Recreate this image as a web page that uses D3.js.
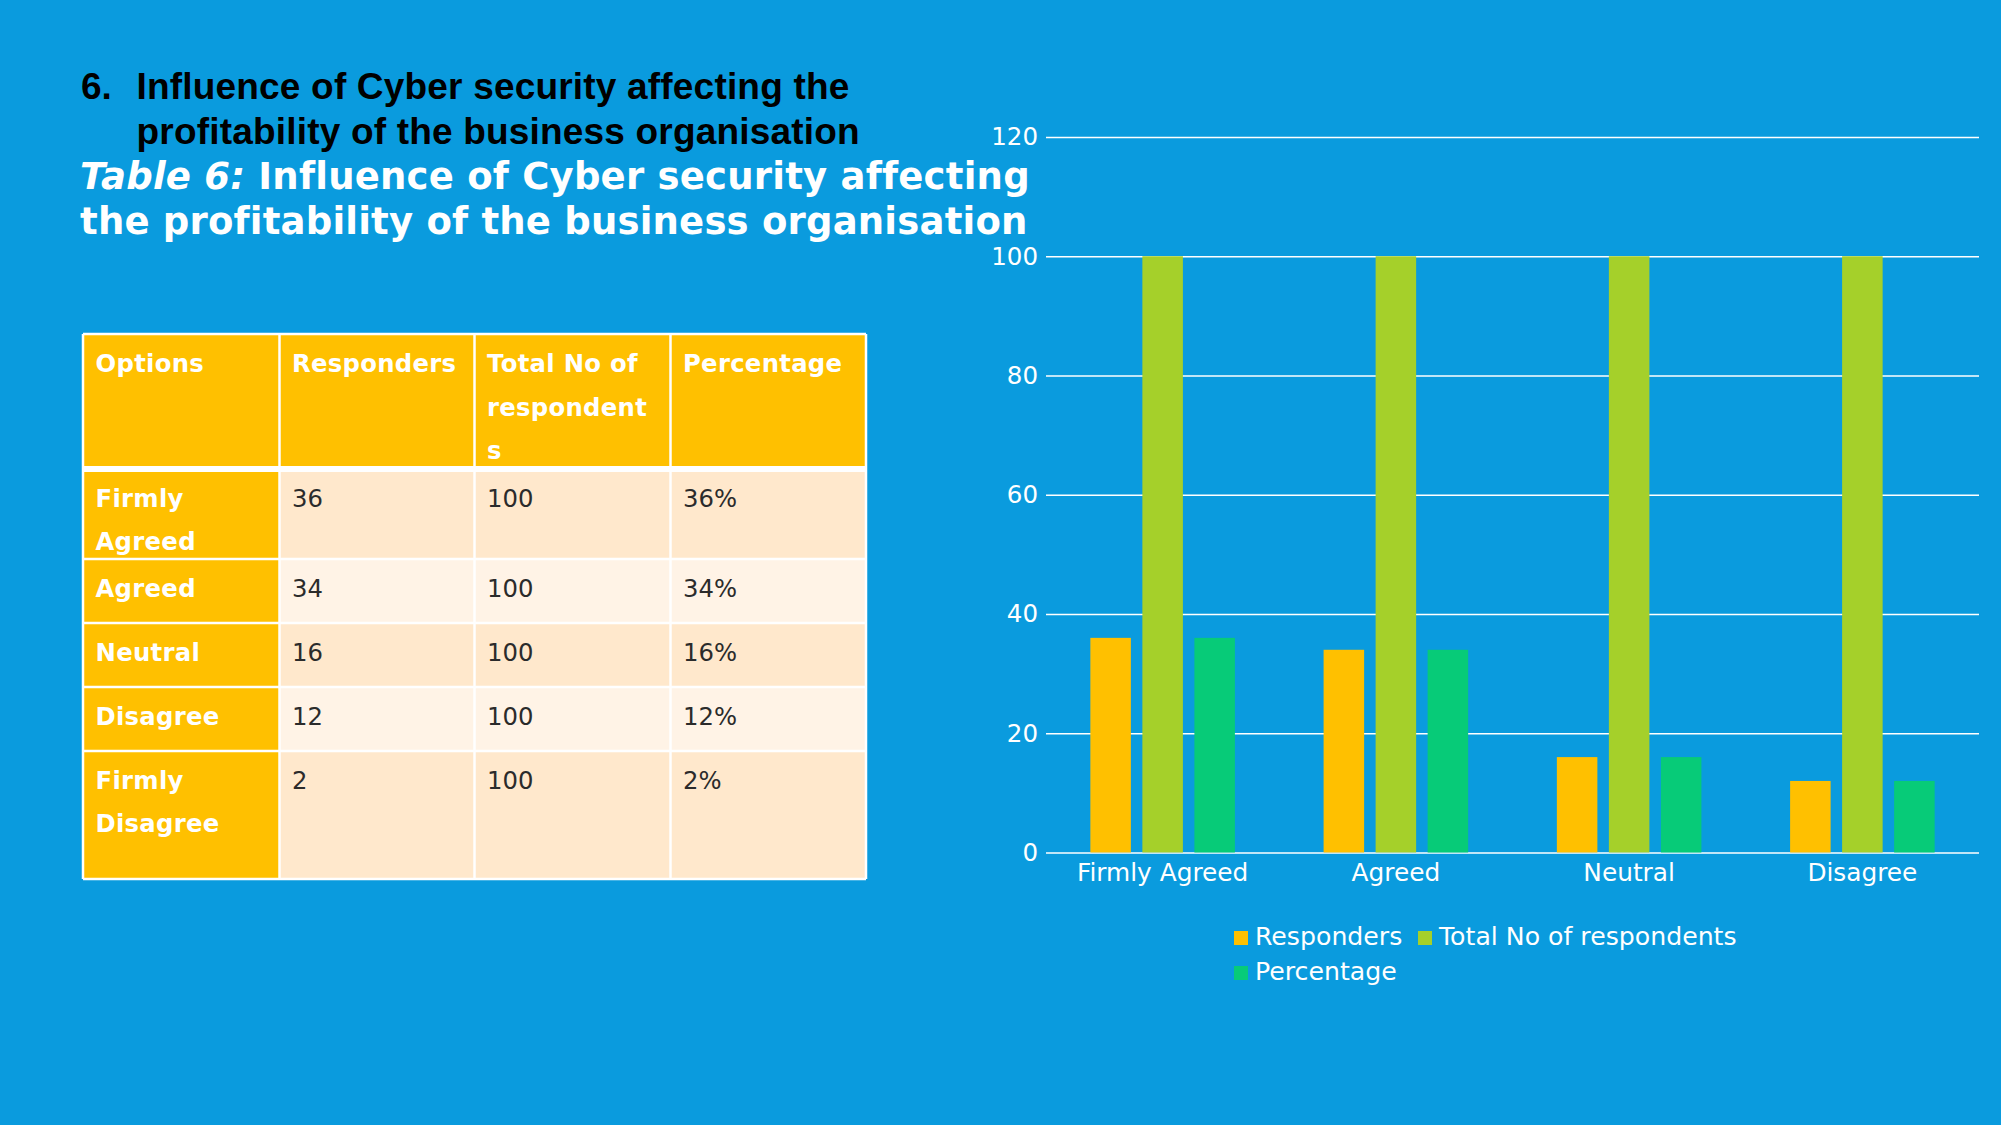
<!DOCTYPE html>
<html>
<head>
<meta charset="utf-8">
<script src="https://cdn.jsdelivr.net/npm/d3@7/dist/d3.min.js"></script>
<style>
  html, body { margin: 0; padding: 0; background: #0A9BDE; }
  svg { display: block; }
</style>
</head>
<body>
<svg id="chart" width="2001" height="1125"></svg>
<script>
// ---------- data ----------
const tableHeaders = [["Options"], ["Responders"], ["Total No of", "respondent", "s"], ["Percentage"]];
const tableOptions = [["Firmly", "Agreed"], ["Agreed"], ["Neutral"], ["Disagree"], ["Firmly", "Disagree"]];
const tableResponders = [36, 34, 16, 12, 2];
const tableTotals = [100, 100, 100, 100, 100];
const tablePercent = ["36%", "34%", "16%", "12%", "2%"];

const categories = ["Firmly Agreed", "Agreed", "Neutral", "Disagree"];
const seriesNames = ["Responders", "Total No of respondents", "Percentage"];
const responders = [36, 34, 16, 12];
const totalRespondents = [100, 100, 100, 100];
const percentage = [36, 34, 16, 12];
const yTicks = [0, 20, 40, 60, 80, 100, 120];

// ---------- styles ----------
const BG = "#0A9BDE";
const colors = ["#FFC000", "#A5D02A", "#07CB78"];
const FONT = "'DejaVu Sans', Verdana, sans-serif";

const svg = d3.select("#chart");
svg.append("rect").attr("width", 2001).attr("height", 1125).attr("fill", BG);

// helper: fit text to a target width by letter-spacing
function fit(sel, target) {
  const node = sel.node();
  const w = node.getComputedTextLength();
  const n = node.textContent.length;
  if (n > 1) sel.attr("letter-spacing", ((target - w) / (n - 1)).toFixed(2));
}

// ---------- titles ----------
const t1 = svg.append("g").attr("font-family", "'Liberation Sans', Arial, sans-serif")
  .attr("font-weight", "bold").attr("font-size", 37).attr("fill", "#000");
t1.append("text").attr("x", 81).attr("y", 99).text("6.");
fit(t1.append("text").attr("x", 136.5).attr("y", 99).text("Influence of Cyber security affecting the"), 713);
fit(t1.append("text").attr("x", 136.5).attr("y", 143.5).text("profitability of the business organisation"), 723);

const st = svg.append("g").attr("font-family", FONT).attr("font-weight", "bold")
  .attr("font-size", 37).attr("fill", "#fff");
const st1 = st.append("text").attr("x", 80).attr("y", 188.5);
st1.append("tspan").attr("font-style", "italic").text("Table 6:");
st1.append("tspan").text(" Influence of Cyber security affecting");
fit(st1, 946);
fit(st.append("text").attr("x", 80).attr("y", 233.5).text("the profitability of the business organisation"), 946);

// ---------- table ----------
const colEdges = [83, 279.5, 474.5, 670.5, 866];
const rowEdges = [334, 469, 559, 623, 687, 751, 879];
const tbl = svg.append("g").attr("font-family", FONT).attr("font-size", 24.3);

const cells = [];
for (let r = 0; r < 6; r++) {
  for (let c = 0; c < 4; c++) {
    let fill, lines, color, weight;
    if (r === 0) { fill = "#FFC000"; lines = tableHeaders[c]; color = "#fff"; weight = "bold"; }
    else {
      const i = r - 1;
      if (c === 0) { fill = "#FFC000"; lines = tableOptions[i]; color = "#fff"; weight = "bold"; }
      else {
        fill = (i % 2 === 0) ? "#FFE8CC" : "#FFF3E6";
        lines = [c === 1 ? String(tableResponders[i]) : c === 2 ? String(tableTotals[i]) : tablePercent[i]];
        color = "#2B2B2B"; weight = "normal";
      }
    }
    cells.push({ r, c, fill, lines, color, weight });
  }
}
const cg = tbl.selectAll("g.cell").data(cells).join("g").attr("class", "cell");
cg.append("rect")
  .attr("x", d => colEdges[d.c]).attr("y", d => rowEdges[d.r])
  .attr("width", d => colEdges[d.c + 1] - colEdges[d.c])
  .attr("height", d => rowEdges[d.r + 1] - rowEdges[d.r])
  .attr("fill", d => d.fill);
cg.each(function(d) {
  const g = d3.select(this);
  d.lines.forEach((ln, k) => {
    g.append("text")
      .attr("x", colEdges[d.c] + 12.5)
      .attr("y", rowEdges[d.r] + (d.r === 0 ? 38 : 37.5) + k * 43.5)
      .attr("fill", d.color).attr("font-weight", d.weight)
      .attr("letter-spacing", d.weight === "bold" ? 0.3 : 0)
      .text(ln);
  });
});
// grid lines of table
const tl = tbl.append("g").attr("stroke", "#fff");
colEdges.forEach(x => tl.append("line").attr("x1", x).attr("x2", x)
  .attr("y1", rowEdges[0]).attr("y2", rowEdges[rowEdges.length - 1]).attr("stroke-width", 2.5));
rowEdges.forEach((y, i) => tl.append("line").attr("x1", colEdges[0]).attr("x2", colEdges[4])
  .attr("y1", y).attr("y2", y).attr("stroke-width", i === 1 ? 6 : 2.5));

// ---------- bar chart ----------
const plotL = 1046, plotR = 1979, plotT = 137, plotB = 852.5;
const y = d3.scaleLinear().domain([0, 120]).range([plotB, plotT]);
const x0 = d3.scaleBand().domain(categories).range([plotL, plotR]).paddingInner(0.331).paddingOuter(0.1655);
const x1 = d3.scaleBand().domain(seriesNames).range([0, x0.bandwidth()]).paddingInner(0.221).paddingOuter(0.1105);
const color = d3.scaleOrdinal().domain(seriesNames).range(colors);

const seriesVals = [responders, totalRespondents, percentage];

const yAxis = svg.append("g").attr("transform", `translate(${plotL},0)`)
  .call(d3.axisLeft(y).tickValues(yTicks).tickSize(-(plotR - plotL)).tickPadding(8));
yAxis.select(".domain").remove();
yAxis.selectAll(".tick line").attr("stroke", "#fff").attr("stroke-width", 1.5);
yAxis.selectAll(".tick text").attr("fill", "#fff").attr("font-family", FONT).attr("font-size", 24.5);

const groups = svg.append("g").selectAll("g").data(categories).join("g")
  .attr("transform", d => `translate(${x0(d)},0)`);
groups.selectAll("rect").data((d, i) => seriesNames.map((s, k) => ({ s, v: seriesVals[k][i] })))
  .join("rect")
  .attr("x", d => x1(d.s)).attr("width", x1.bandwidth())
  .attr("y", d => y(d.v)).attr("height", d => y(0) - y(d.v))
  .attr("fill", d => color(d.s));

const xAxis = svg.append("g").attr("transform", `translate(0,${plotB})`)
  .call(d3.axisBottom(x0).tickSize(0).tickPadding(11));
xAxis.select(".domain").remove();
xAxis.selectAll(".tick text").attr("fill", "#fff").attr("font-family", FONT).attr("font-size", 24.8);

// legend
const legendPos = [{ x: 1234, y: 945 }, { x: 1418, y: 945 }, { x: 1234, y: 980 }];
const lg = svg.append("g").selectAll("g").data(seriesNames).join("g")
  .attr("transform", (d, i) => `translate(${legendPos[i].x},${legendPos[i].y})`);
lg.append("rect").attr("x", 0).attr("y", -14).attr("width", 14).attr("height", 14).attr("fill", d => color(d));
lg.append("text").attr("x", 21).attr("y", 0).attr("fill", "#fff")
  .attr("font-family", FONT).attr("font-size", 25.2).text(d => d);
</script>
</body>
</html>
